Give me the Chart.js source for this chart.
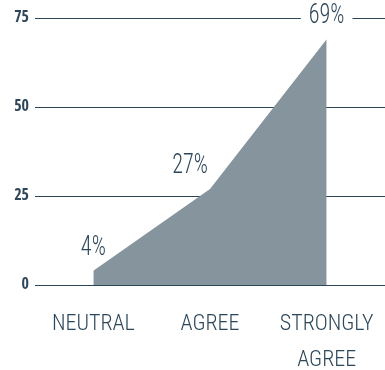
<!DOCTYPE html>
<html>
<head>
<meta charset="utf-8">
<script src="https://cdn.jsdelivr.net/npm/chart.js@4"></script>
<style>
  html, body { margin: 0; padding: 0; background: #ffffff; }
  #wrap { width: 385px; height: 370px; }
</style>
</head>
<body>
<div id="wrap"><canvas id="chart"></canvas></div>
<script>

/* data */
let categories = [ "NEUTRAL", "AGREE", ["STRONGLY", "AGREE"] ];
let values = [ 4, 27, 69 ];
let yTicks = [ 0, 25, 50, 75 ];

let textColor = "#2d4759";
let gridColor = "#2b4557";
let fillColor = "#86949e";
let labelFont = "'Roboto Condensed', 'Liberation Sans', sans-serif";
let tickFont = "'Open Sans Condensed', 'Roboto Condensed', sans-serif";

function labelPos(pt, i){

   return {
      x : pt.x + (i === 1 ? -20 : 0),
      y : pt.y - 23
   };

}

/* label persen di atas titik */
let percentLabels = {

   id: "percentLabels",

   /* kotak putih menutup garis grid, area digambar di atasnya */
   beforeDatasetsDraw(chart){

      let ctx = chart.ctx;
      let meta = chart.getDatasetMeta(0);

      ctx.save();
      ctx.font = "300 27px " + labelFont;
      ctx.fillStyle = "#ffffff";

      meta.data.forEach(function(pt, i){

         let p = labelPos(pt, i);
         let w = ctx.measureText(values[i] + "%").width * 0.82;

         ctx.fillRect(p.x - w/2 - 8, p.y - 11, w + 16, 22);

      });

      ctx.restore();

   },

   afterDatasetsDraw(chart){

      let ctx = chart.ctx;
      let meta = chart.getDatasetMeta(0);

      ctx.save();
      ctx.font = "300 27px " + labelFont;
      ctx.textAlign = "center";
      ctx.textBaseline = "middle";
      ctx.fillStyle = textColor;

      meta.data.forEach(function(pt, i){

         let p = labelPos(pt, i);

         ctx.save();
         ctx.translate(p.x, p.y);
         ctx.scale(0.82, 1);
         ctx.fillText(values[i] + "%", 0, 0);
         ctx.restore();

      });

      ctx.restore();

   }

};

let ctx = document.getElementById("chart").getContext("2d");

new Chart(ctx, {

   type: "line",

   data: {

      labels: categories,

      datasets: [{

         data: values,
         fill: "origin",
         backgroundColor: fillColor,
         borderWidth: 0,
         pointRadius: 0,
         tension: 0

      }]

   },

   options: {

      responsive: true,
      maintainAspectRatio: false,
      animation: false,

      layout: {
         padding: { left: 0, top: 18, right: 0, bottom: 0 }
      },

      plugins: {
         legend: { display: false },
         tooltip: { enabled: false }
      },

      scales: {

         x: {

            offset: true,

            grid: { display: false, drawTicks: false },
            border: { display: false },

            afterFit: function(scale){
               scale.height = 85;
               scale.paddingLeft = 0;
               scale.paddingRight = 0;
            },

            ticks: {
               color: textColor,
               padding: 21,
               maxRotation: 0,
               autoSkip: false,
               font: { family: labelFont, size: 22, weight: "300", lineHeight: 1.65 }
            }

         },

         y: {

            min: 0,
            max: 75,

            afterBuildTicks: function(scale){
               scale.ticks = yTicks.map(v => ({ value: v }));
            },

            afterFit: function(scale){
               scale.width = 35;
            },

            grid: {
               color: gridColor,
               lineWidth: 1,
               drawTicks: false
            },
            border: { display: false },

            ticks: {
               color: textColor,
               padding: 6,
               font: { family: tickFont, size: 16, weight: "bold" }
            }

         }

      }

   },

   plugins: [percentLabels]

});

</script>
</body>
</html>
